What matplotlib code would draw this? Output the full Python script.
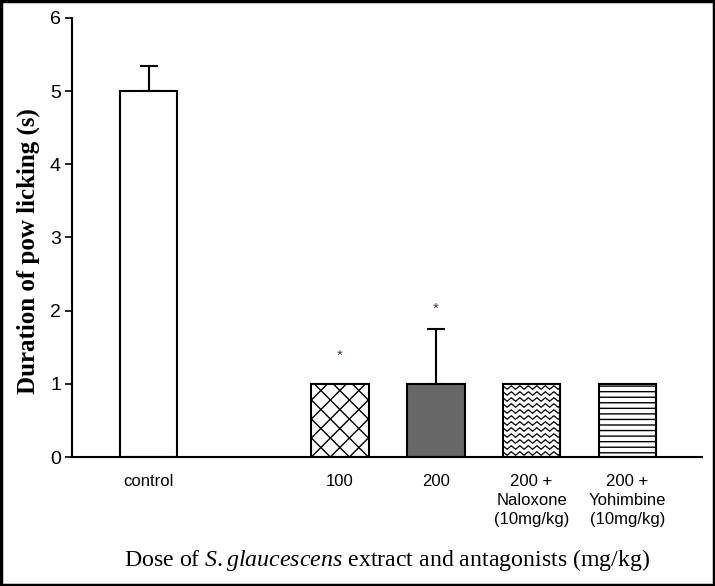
import numpy as np
import matplotlib.pyplot as plt
from matplotlib.patches import Rectangle

# Data
groups = ['control', '100', '200', '200 +\nNaloxone\n(10mg/kg)', '200 +\nYohimbine\n(10mg/kg)']
positions = [0, 2, 3, 4, 5]
means = [5.0, 1.0, 1.0, 1.0, 1.0]
errors = [0.35, 0.0, 0.75, 0.0, 0.0]
signif = [False, True, True, False, False]
star_y = [0, 1.39, 2.03, 0, 0]

plt.rcParams['font.family'] = ['Liberation Sans', 'DejaVu Sans']
plt.rcParams['mathtext.fontset'] = 'custom'
plt.rcParams['mathtext.it'] = 'Liberation Serif:italic'
plt.rcParams['mathtext.rm'] = 'Liberation Serif'

fig = plt.figure(figsize=(7.15, 5.86), dpi=100)
ax = fig.add_axes([72/715, 1 - 457/586, 630/715, (457 - 18)/586])
ax.set_xlim(-0.8, 5.78)
ax.set_ylim(0, 6)

# pixels per data unit (for drawing fill patterns)
px_x = 630 / (5.78 + 0.8)
px_y = 439 / 6

width = 0.6
styles = [
    dict(facecolor='white', hatch=None),
    dict(facecolor='white', hatch=None),
    dict(facecolor='#676767', hatch=None),
    dict(facecolor='white', hatch=None),
    dict(facecolor='white', hatch='---'),
]
bars = []
for p, m, st in zip(positions, means, styles):
    b = ax.bar(p, m, width=width, color=st['facecolor'], edgecolor='black',
               linewidth=1.5, hatch=st['hatch'], zorder=2)
    bars.append(b[0])

# crosshatch for the 100 bar
cb = bars[1]
x0 = cb.get_x()
d = 19 / px_x
for k in range(-8, 12):
    xa = x0 + k * d
    for sgn in (1, -1):
        xs = np.array([xa, xa + sgn * 2.0 * px_y / px_x])
        ys = np.array([0, 2.0])
        ln, = ax.plot(xs, ys, color='black', linewidth=1.0, zorder=3)
        ln.set_clip_path(cb)

# zigzag fill for the naloxone bar
zb = bars[3]
x0, x1 = zb.get_x(), zb.get_x() + zb.get_width()
xs = np.linspace(x0 - 0.05, x1 + 0.05, 300)
period = 8.5 / px_x
amp = 1.8 / px_y
tri = amp * (2 * np.abs(2 * ((xs - x0) / period % 1) - 1) - 1)
for yb in np.arange(3.5 / px_y, 1.0, 6.0 / px_y):
    ln, = ax.plot(xs, yb + tri, color='black', linewidth=0.9, zorder=3)
    ln.set_clip_path(zb)

# error bars (upper only)
for p, m, e in zip(positions, means, errors):
    if e > 0:
        ax.errorbar(p, m, yerr=[[0], [e]], fmt='none', ecolor='black',
                    elinewidth=1.5, capsize=6.5, capthick=1.5, zorder=1)

for p, s, y in zip(positions, signif, star_y):
    if s:
        ax.text(p, y, '*', ha='center', va='center', fontsize=11, color='#5a3535')

ax.set_yticks(range(0, 7))
ax.set_xticks(positions)
ax.set_xticklabels(groups, fontsize=12, linespacing=1.35)
ax.tick_params(axis='x', length=0, pad=12)
ax.tick_params(axis='y', length=5, width=1.2, labelsize=14, pad=3)
for s in ['top', 'right']:
    ax.spines[s].set_visible(False)
for s in ['left', 'bottom']:
    ax.spines[s].set_linewidth(1.5)

ax.set_ylabel('Duration of pow licking (s)', fontsize=18, fontweight='bold',
              family='Liberation Serif')
ax.yaxis.set_label_coords(-0.05, 0.47)
fig.text(387/715, 1 - 560/586,
         r'Dose of $\it{S.glaucescens}$ extract and antagonists (mg/kg)',
         ha='center', va='center', fontsize=17.2, family='Liberation Serif')

fig.patches.append(Rectangle((0.002, 0.002), 0.996, 0.996, transform=fig.transFigure,
                             fill=False, edgecolor='black', linewidth=2.5))

fig.savefig('out.png', dpi=100)
